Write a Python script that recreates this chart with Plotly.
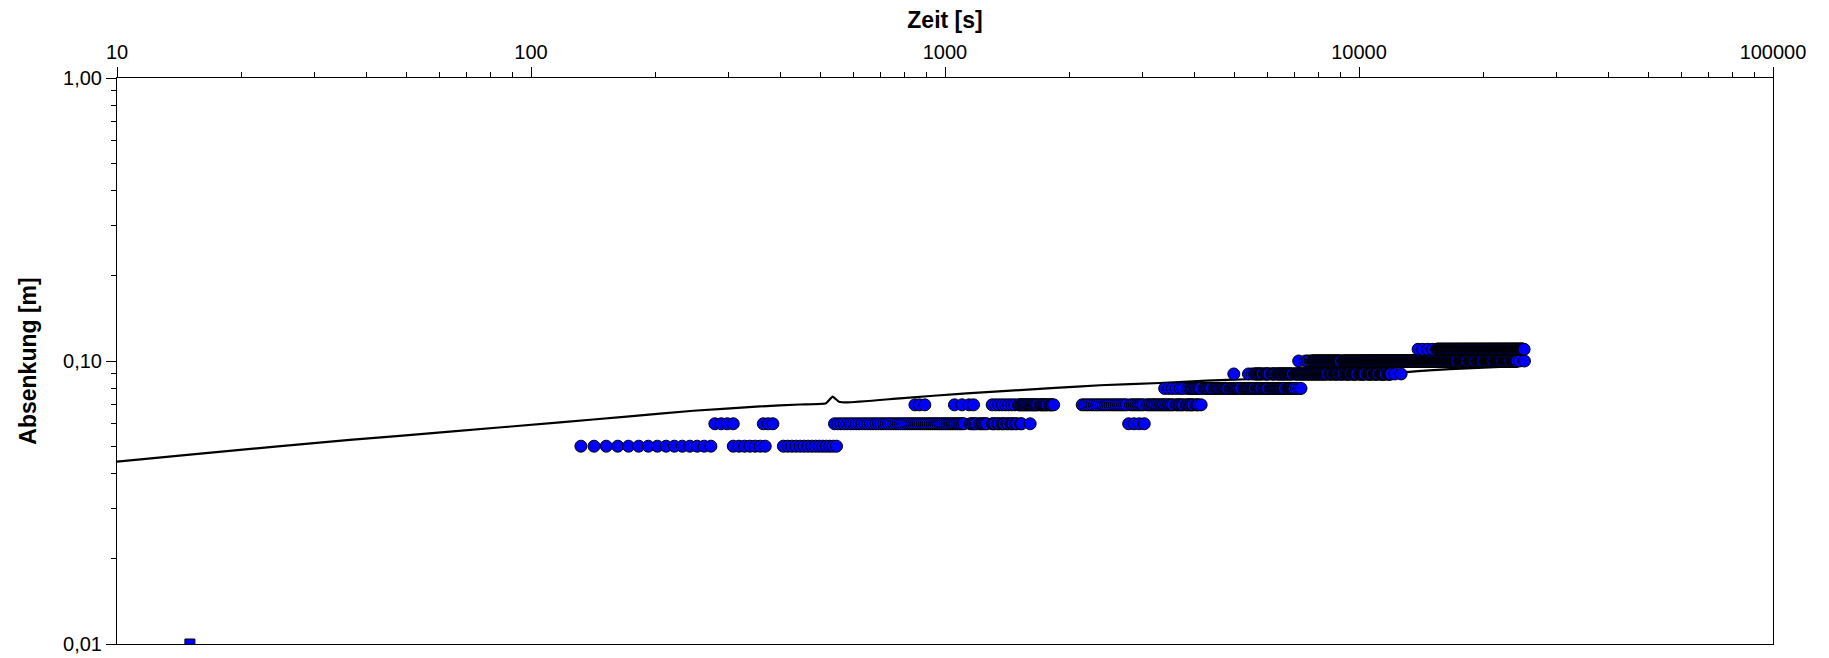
import plotly.graph_objects as go

# ---------------- data ----------------
# Model curve: time [s] and drawdown [m]
model_t = [10, 15.9, 36.5, 63.7, 117.5, 170.3, 246.6, 357.4, 446.4, 516, 535,
           554.6, 580, 778.5, 1128, 1844, 2368, 3306, 4287, 5354, 7203, 9513,
           12794, 15090, 18200, 21910, 25180]
model_s = [0.0441, 0.0471, 0.0526, 0.0563, 0.0607, 0.0636, 0.0667, 0.0691,
           0.0702, 0.0709, 0.0748, 0.0718, 0.0714, 0.0738, 0.0769, 0.0803,
           0.0821, 0.0836, 0.0852, 0.0862, 0.0879, 0.0894, 0.0912, 0.0929,
           0.0942, 0.0954, 0.0972]

# Measured drawdown levels (logger resolution 0.01 m)
level_values = [0.05, 0.06, 0.07, 0.08, 0.09, 0.10, 0.11]

# Logged readings per level, run-length encoded: (first t, last t, logger interval) [s]
runs_005 = [(132, 272, 10), (308, 368, 10), (407, 547, 10)]
runs_006 = [(278, 308, 10), (364, 384, 10), (541, 1111, 10), (1151, 1191, 10),
            (1211, 1261, 10), (1301, 1321, 10), (1341, 1351, 10), (1371, 1391, 10),
            (1411, 1421, 10), (1441, 1461, 10), (1481, 1491, 10), (1521, 1531, 10),
            (1606, 1606, 1), (2777, 3029, 84)]
runs_007 = [(846, 846, 1), (868, 868, 1), (894, 894, 1), (1054, 1054, 1),
            (1099, 1099, 1), (1143, 1143, 1), (1172, 1172, 1), (1300, 1475, 25),
            (1505, 1675, 10), (1695, 1765, 10), (1785, 1815, 10), (1830, 1830, 1),
            (2145, 2745, 30), (2805, 3015, 30), (3075, 3555, 30), (3615, 3765, 30),
            (3825, 3975, 30), (4035, 4095, 30), (4157, 4157, 1)]
runs_008 = [(3393, 3393, 1), (3470, 3470, 1), (3540, 3540, 1), (3620, 3620, 1),
            (3700, 3700, 1), (3760, 3760, 1), (3850, 3850, 1), (3900, 4160, 30),
            (4220, 4400, 30), (4460, 4820, 30), (4880, 5200, 30), (5260, 5590, 30),
            (5650, 5800, 30), (5860, 6030, 30), (6090, 6620, 30), (6700, 6980, 30),
            (7070, 7070, 1), (7160, 7160, 1), (7243, 7243, 1)]
runs_009 = [(4984, 4984, 1), (5408, 5408, 1), (5520, 5520, 1), (5600, 5850, 30),
            (5910, 6080, 30), (6150, 6270, 30), (6330, 6920, 30), (6990, 8380, 30),
            (8460, 8610, 30), (8690, 8900, 30), (8980, 9160, 30), (9250, 9520, 30),
            (9610, 9900, 30), (10000, 10350, 30), (10460, 10760, 30),
            (10870, 11120, 30), (11240, 11570, 30), (11700, 11950, 30),
            (12200, 12200, 1), (12640, 12640, 1)]
runs_010 = [(7150, 7150, 1), (7430, 7430, 1), (7520, 7520, 1), (7620, 7620, 1),
            (7700, 9040, 30), (9130, 17250, 30), (17420, 18240, 30),
            (18420, 19060, 30), (19250, 19930, 30), (20130, 21070, 30),
            (21270, 22150, 30), (22360, 23160, 30), (23380, 24080, 30),
            (24400, 24400, 1), (25100, 25100, 1)]
runs_011 = [(13890, 13890, 1), (14250, 14250, 1), (14650, 14650, 1),
            (15050, 15050, 1), (15400, 24950, 30), (25050, 25050, 1)]
level_runs = [runs_005, runs_006, runs_007, runs_008, runs_009, runs_010, runs_011]

# Single marker at the bottom edge
start_t = [15]
start_s = [0.01]

x_tick_vals = [10, 100, 1000, 10000, 100000]
x_tick_text = ["10", "100", "1000", "10000", "100000"]
y_tick_vals = [0.01, 0.1, 1.0]
y_tick_text = ["0,01", "0,10", "1,00"]


def expand(runs):
    out = []
    for first, last, step in runs:
        t = first
        while t <= last:
            out.append(t)
            t += step
    return out


FONT = "Liberation Sans, Arial, sans-serif"
BLUE = "#0000FF"

fig = go.Figure()
fig.add_trace(go.Scatter(x=model_t, y=model_s, mode="lines",
                         line=dict(color="black", width=2.2, shape="spline",
                                   smoothing=0.4),
                         showlegend=False, hoverinfo="skip"))
for lvl, runs in zip(level_values, level_runs):
    ts = expand(runs)
    fig.add_trace(go.Scatter(x=ts, y=[lvl] * len(ts), mode="markers",
                             marker=dict(symbol="circle", size=12, color=BLUE,
                                         line=dict(color="black", width=1)),
                             showlegend=False))
fig.add_trace(go.Scatter(x=start_t, y=start_s, mode="markers",
                         marker=dict(symbol="square", size=10, color=BLUE,
                                     line=dict(color="black", width=1)),
                         showlegend=False, cliponaxis=True))

minor_x = [m * 10 ** k for k in range(1, 5) for m in range(2, 10)]
minor_y = [m * 10 ** k for k in (-2, -1) for m in range(2, 10)]

axis_common = dict(type="log", showline=True, linecolor="black", linewidth=1,
                   mirror=True, ticks="outside", ticklen=10, tickwidth=1,
                   tickcolor="black", showgrid=False, zeroline=False,
                   automargin=False,
                   tickfont=dict(family=FONT, size=20, color="black"))

fig.update_xaxes(**axis_common, range=[1, 5], side="top",
                 tickvals=x_tick_vals, ticktext=x_tick_text,
                 minor=dict(ticks="outside", ticklen=5, tickcolor="black",
                            tickvals=minor_x, showgrid=False),
                 title=dict(text="<b>Zeit [s]</b>", standoff=5,
                            font=dict(family=FONT, size=23, color="black")))
fig.update_yaxes(**axis_common, range=[-2, 0],
                 tickvals=y_tick_vals, ticktext=y_tick_text,
                 minor=dict(ticks="outside", ticklen=5, tickcolor="black",
                            tickvals=minor_y, showgrid=False),
                 title=dict(text="<b>Absenkung [m]</b>", standoff=20,
                            font=dict(family=FONT, size=23, color="black")))

fig.update_layout(width=1829, height=658, autosize=False,
                  margin=dict(l=117, r=56, t=78, b=14),
                  paper_bgcolor="white", plot_bgcolor="white",
                  showlegend=False)

fig.write_html("out.html")
